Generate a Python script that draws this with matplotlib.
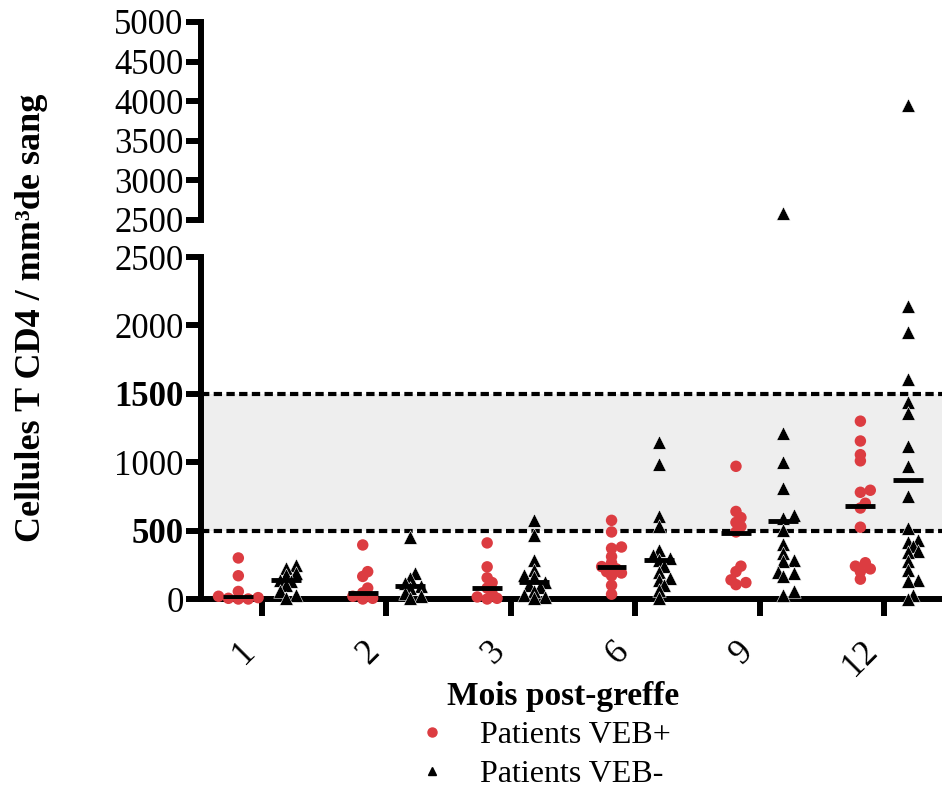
import numpy as np
import matplotlib
matplotlib.use('Agg')
import matplotlib.pyplot as plt
from matplotlib.lines import Line2D

# mois post-greffe
mois = ['1', '2', '3', '6', '9', '12']

# Patients VEB+ (cellules T CD4 / mm3)
veb_pos = [
    [300, 170, 55, 20, 10, 5, 0, 0],
    [395, 200, 165, 80, 45, 20, 5, 0],
    [410, 235, 155, 120, 80, 40, 15, 5, 0],
    [575, 490, 380, 370, 310, 265, 237, 220, 200, 190, 170, 100, 35],
    [970, 640, 595, 560, 530, 490, 240, 200, 140, 120, 105],
    [1300, 1155, 1055, 1010, 795, 780, 700, 665, 525, 265, 240, 220, 200, 145],
]

# Patients VEB-
veb_neg = [
    [250, 230, 190, 175, 140, 135, 100, 55, 30, 10],
    [450, 190, 155, 120, 95, 80, 45, 20, 5],
    [575, 470, 285, 210, 175, 160, 127, 100, 90, 60, 30, 15, 5],
    [1145, 990, 605, 530, 360, 320, 300, 285, 240, 200, 155, 140, 100, 65, 10],
    [2590, 1215, 1000, 810, 615, 595, 505, 405, 335, 285, 275, 200, 190, 165, 55, 30],
    [3950, 2140, 1950, 1610, 1440, 1360, 1115, 975, 755, 520, 430, 420, 385, 350,
     345, 275, 210, 140, 135, 30, 0],
]

# moyennes affichees (traits horizontaux)
moy_pos = [15, 42, 80, 237, 480, 681]
moy_neg = [139, 95, 127, 285, 573, 871]

# zone normale
norme_bas, norme_haut = 500, 1500
coupure = 2500

rouge = '#DC3C41'
plt.rcParams['font.family'] = ['Liberation Serif', 'DejaVu Serif']

fig = plt.figure(figsize=(9.42, 7.91), dpi=100)
W, H = 942, 791
left = 201 / W
width = 1 - left
ax_bas = fig.add_axes([left, 1 - 599 / H, width, (599 - 257) / H])
ax_haut = fig.add_axes([left, 1 - 220 / H, width, (220 - 22) / H])

xlim = (-0.49, 5.466)
for ax in (ax_bas, ax_haut):
    ax.set_xlim(*xlim)
    ax.spines['top'].set_visible(False)
    ax.spines['right'].set_visible(False)
    ax.spines['left'].set_linewidth(4.3)
    ax.spines['bottom'].set_linewidth(4.3)
    ax.tick_params(axis='y', length=11, width=4.3, pad=1.5, labelsize=25)
    ax.patch.set_alpha(0)

ax_bas.set_ylim(0, coupure)
ax_haut.set_ylim(coupure, 5000)
ax_haut.spines['bottom'].set_visible(False)
ax_haut.set_xticks([])

yt_bas = [0, 500, 1000, 1500, 2000, 2500]
ax_bas.set_yticks(yt_bas)
ax_bas.set_yticklabels([str(v) for v in yt_bas])
for lab, v in zip(ax_bas.get_yticklabels(), yt_bas):
    if v in (norme_bas, norme_haut):
        lab.set_fontweight('bold')
yt_haut = [2500, 3000, 3500, 4000, 4500, 5000]
ax_haut.set_yticks(yt_haut)
ax_haut.set_yticklabels([str(v) for v in yt_haut])

ax_bas.set_xticks(range(len(mois)))
ax_bas.set_xticklabels(mois, rotation=45, ha='right', fontsize=25)
ax_bas.tick_params(axis='x', length=12, width=4.3, pad=14)

# zone grisee et limites
ax_bas.axhspan(norme_bas, norme_haut, color='#EEEEEE', zorder=0, lw=0)
for v in (norme_bas, norme_haut):
    ax_bas.axhline(v, color='black', lw=3, dashes=(2, 1.05), zorder=1)

dec = 0.19
px_x = ax_bas.transData.transform([(1, 0)])[0, 0] - ax_bas.transData.transform([(0, 0)])[0, 0]


def essaim(ax, vals, diam):
    vals = np.asarray(vals, dtype=float)
    ys = ax.transData.transform(np.column_stack([np.zeros(len(vals)), vals]))[:, 1]
    offs = np.zeros(len(vals))
    places = []
    step = diam * 0.45
    for i in np.argsort(vals):
        for k in [0, 1, -1, 2, -2, 3, -3, 4, -4, 5, -5]:
            x = k * step
            if all((x - px) ** 2 + (ys[i] - py) ** 2 >= (diam * 0.55) ** 2 for px, py in places):
                break
        offs[i] = x
        places.append((x, ys[i]))
    return offs / px_x


def tracer(groupes, cote, style):
    for i, vals in enumerate(groupes):
        vals = np.asarray(vals, dtype=float)
        for ax, masque in ((ax_bas, vals <= coupure), (ax_haut, vals > coupure)):
            v = vals[masque]
            if len(v) == 0:
                continue
            x = i + cote + essaim(ax, v, style['diam'])
            ax.scatter(x, v, s=style['s'], marker=style['marker'], color=style['color'],
                       edgecolors=style['ec'], linewidths=style['lw'], zorder=3, clip_on=False)


st_pos = dict(diam=11, s=68, marker='o', color=rouge, ec='none', lw=0)
st_neg = dict(diam=12, s=95, marker='^', color='black', ec='white', lw=0.4)
tracer(veb_pos, -dec, st_pos)
tracer(veb_neg, dec, st_neg)

for i in range(len(mois)):
    ax_bas.hlines(moy_pos[i], i - dec - 0.12, i - dec + 0.12, color='black', lw=3.5, zorder=4)
    ax_bas.hlines(moy_neg[i], i + dec - 0.12, i + dec + 0.12, color='black', lw=3.5, zorder=4)

fig.text(32 / W, 1 - 318 / H, 'Cellules T CD4 / mm\u00b3de sang', rotation=90,
         ha='center', va='center', fontsize=26, fontweight='bold')
fig.text(563 / W, 1 - 697 / H, 'Mois post-greffe', ha='center', va='center',
         fontsize=24, fontweight='bold')

poignees = [
    Line2D([], [], ls='none', marker='o', color=rouge, markersize=6.5),
    Line2D([], [], ls='none', marker='^', color='black', markersize=6),
]
fig.legend(poignees, ['Patients VEB+', 'Patients VEB-'], loc='upper left',
           bbox_to_anchor=(419 / W, 1 - 721 / H), frameon=False, fontsize=23,
           handlelength=0.8, handletextpad=1.1, borderpad=0, borderaxespad=0,
           labelspacing=0.3)

fig.savefig('out.png', dpi=100)
